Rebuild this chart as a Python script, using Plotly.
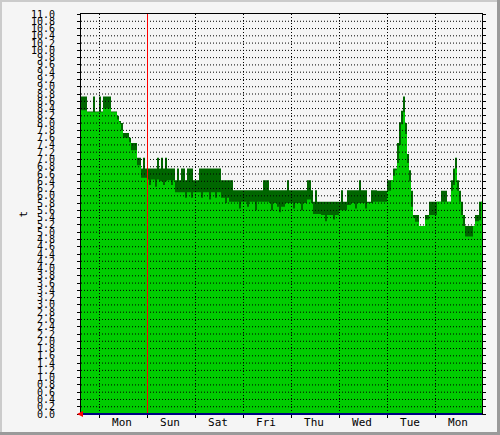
import plotly.graph_objects as go

# Hourly samples (left edge = sample 0)
MAX_VALUES = [
    8.73, 8.73, 8.73, 8.32, 8.32, 8.32, 8.73, 8.32, 8.32, 8.73,
    8.32, 8.73, 8.73, 8.73, 8.73, 8.32, 8.32, 8.32, 8.2, 8.06,
    8.0, 7.73, 7.73, 7.73, 7.6, 7.45, 7.45, 7.45, 7.05, 7.05,
    6.75, 7.05, 6.75, 6.75, 6.75, 6.75, 6.75, 6.75, 7.05, 6.75,
    7.05, 6.75, 7.05, 6.75, 6.75, 6.75, 6.75, 6.43, 6.75, 6.43,
    6.75, 6.75, 6.43, 6.75, 6.75, 6.75, 6.43, 6.43, 6.43, 6.75,
    6.75, 6.75, 6.75, 6.75, 6.75, 6.75, 6.75, 6.75, 6.75, 6.75,
    6.43, 6.43, 6.43, 6.43, 6.43, 6.43, 6.15, 6.15, 6.15, 6.15,
    6.15, 6.15, 6.15, 6.15, 6.15, 6.15, 6.15, 6.15, 6.15, 6.15,
    6.15, 6.43, 6.43, 6.43, 6.15, 6.15, 6.15, 6.15, 6.15, 6.15,
    6.15, 6.15, 6.15, 6.43, 6.15, 6.15, 6.15, 6.15, 6.15, 6.15,
    6.15, 6.15, 6.15, 6.43, 6.43, 6.15, 5.84, 6.15, 5.84, 5.84,
    5.84, 5.84, 5.84, 5.84, 5.84, 5.84, 5.84, 5.84, 5.84, 5.84,
    6.15, 5.84, 5.84, 6.15, 6.15, 6.15, 6.15, 6.15, 6.15, 6.43,
    6.15, 6.15, 6.15, 5.84, 5.84, 6.15, 6.15, 6.15, 6.14, 6.14,
    6.14, 6.14, 6.14, 6.43, 6.43, 6.43, 6.75, 6.75, 7.45, 8.02,
    8.34, 8.73, 8.0, 7.15, 6.7, 6.14, 5.47, 5.47, 5.47, 5.17,
    5.17, 5.17, 5.47, 5.47, 5.84, 5.84, 5.84, 5.84, 5.84, 5.84,
    6.14, 6.14, 6.14, 5.84, 5.84, 6.43, 6.75, 7.05, 6.43, 6.14,
    5.84, 5.47, 5.17, 5.17, 5.17, 5.17, 5.17, 5.47, 5.47, 5.84,
    5.84,
]

AVG_VALUES = [
    8.35, 8.35, 8.35, 8.3, 8.3, 8.3, 8.3, 8.3, 8.3, 8.3,
    8.3, 8.4, 8.4, 8.4, 8.4, 8.3, 8.3, 8.3, 8.1, 8.03,
    7.8, 7.6, 7.6, 7.6, 7.47, 7.25, 7.25, 7.25, 6.84, 6.84,
    6.5, 6.5, 6.5, 6.45, 6.3, 6.45, 6.45, 6.25, 6.45, 6.4,
    6.4, 6.3, 6.4, 6.43, 6.43, 6.3, 6.43, 6.1, 6.1, 6.1,
    6.1, 6.1, 5.95, 6.1, 6.1, 5.95, 6.1, 6.1, 6.1, 6.1,
    5.95, 6.1, 6.1, 6.1, 5.9, 6.1, 6.1, 5.95, 6.1, 6.1,
    5.95, 5.95, 5.8, 5.95, 5.84, 5.84, 5.84, 5.84, 5.84, 5.65,
    5.84, 5.84, 5.84, 5.7, 5.84, 5.84, 5.84, 5.6, 5.84, 5.84,
    5.84, 5.84, 5.84, 5.84, 5.8, 5.6, 5.8, 5.8, 5.7, 5.55,
    5.7, 5.7, 5.8, 5.8, 5.8, 5.8, 5.65, 5.8, 5.8, 5.8,
    5.6, 5.8, 5.8, 5.9, 5.9, 5.8, 5.5, 5.5, 5.5, 5.5,
    5.47, 5.47, 5.3, 5.47, 5.47, 5.47, 5.35, 5.47, 5.47, 5.6,
    5.6, 5.6, 5.6, 5.75, 5.75, 5.8, 5.8, 5.65, 5.8, 5.8,
    5.8, 5.8, 5.65, 5.8, 5.8, 5.8, 5.84, 5.84, 5.84, 5.84,
    5.84, 5.84, 5.84, 6.14, 6.14, 6.43, 6.55, 6.7, 6.9, 7.4,
    7.97, 8.3, 7.7, 6.9, 6.4, 5.7, 5.4, 5.29, 5.29, 5.17,
    5.17, 5.17, 5.35, 5.35, 5.47, 5.47, 5.47, 5.47, 5.84, 5.84,
    5.84, 5.84, 5.84, 5.84, 5.84, 6.14, 6.3, 6.75, 6.14, 5.84,
    5.47, 5.17, 4.88, 4.88, 4.88, 4.88, 5.17, 5.3, 5.3, 5.33,
    5.84,
]

DAY_LABELS = ["Mon", "Sun", "Sat", "Fri", "Thu", "Wed", "Tue", "Mon"]
FIRST_MIDNIGHT = 9.25      # hours from the left edge
HOURS_PER_DAY = 24
RED_LINE_INDEX = 1         # which day boundary is drawn as the red marker
Y_MAX = 11.0
Y_STEP = 0.2

n = len(MAX_VALUES)
hours = list(range(n + 1))
max_y = MAX_VALUES + [MAX_VALUES[-1]]
avg_y = AVG_VALUES + [AVG_VALUES[-1]]
x_end = n - 0.5

boundaries = [FIRST_MIDNIGHT + HOURS_PER_DAY * k for k in range(len(DAY_LABELS))]
label_pos = [b + HOURS_PER_DAY / 2 - 0.75 for b in boundaries]
yticks = [round(Y_STEP * k, 1) for k in range(int(round(Y_MAX / Y_STEP)) + 1)]

DARK = "#006600"
BRIGHT = "#00CC00"
BG = "#F5F5F5"
MONO = "DejaVu Sans Mono"

fig = go.Figure()
fig.add_trace(go.Scatter(x=hours, y=max_y, mode="lines", line=dict(width=0, shape="hv"),
                         fill="tozeroy", fillcolor=DARK, hoverinfo="skip", showlegend=False))
fig.add_trace(go.Scatter(x=hours, y=avg_y, mode="lines", line=dict(width=0, shape="hv"),
                         fill="tozeroy", fillcolor=BRIGHT, hoverinfo="skip", showlegend=False))
# invisible trace on the label axis
fig.add_trace(go.Scatter(x=[0], y=[0], xaxis="x2", mode="markers",
                         marker=dict(opacity=0), hoverinfo="skip", showlegend=False))

W, H = 500, 435
L, R, T, B = 81, 18, 14, 21
pw, ph = W - L - R, H - T - B

fig.update_layout(
    width=W, height=H,
    margin=dict(l=L, r=R, t=T, b=B, pad=0, autoexpand=False),
    paper_bgcolor=BG, plot_bgcolor=BG,
    xaxis=dict(range=[0, x_end], tickvals=boundaries, ticktext=[""] * len(boundaries),
               ticks="outside", ticklen=3, tickcolor="black", showgrid=False,
               zeroline=False, showline=True, linecolor="black", mirror=True,
               fixedrange=True, automargin=False),
    xaxis2=dict(range=[0, x_end], overlaying="x", anchor="y", side="bottom",
                tickvals=label_pos, ticktext=DAY_LABELS, ticks="", showgrid=False,
                zeroline=False, showline=False, automargin=False,
                tickfont=dict(family=MONO, size=11, color="black")),
    yaxis=dict(range=[0, Y_MAX], tickvals=yticks, ticktext=[f"{v:.1f}" for v in yticks],
               ticks="outside", ticklen=3, tickcolor="black", showgrid=False,
               zeroline=False, showline=True, linecolor="black", mirror="ticks",
               ticklabelstandoff=20, automargin=False,
               tickfont=dict(family=MONO, size=10, color="black")),
    font=dict(family=MONO, color="black"),
)

shapes = []
grid_line = dict(color="black", width=1, dash="1px,2px")
for v in yticks[1:-1]:
    shapes.append(dict(type="line", xref="paper", yref="y", x0=0, x1=1, y0=v, y1=v,
                       line=grid_line, layer="above"))
for k, b in enumerate(boundaries):
    if k == RED_LINE_INDEX:
        shapes.append(dict(type="line", xref="x", yref="paper", x0=b, x1=b, y0=0, y1=1,
                           line=dict(color="red", width=1), layer="above"))
    else:
        shapes.append(dict(type="line", xref="x", yref="paper", x0=b, x1=b, y0=0, y1=1,
                           line=grid_line, layer="above"))
# bottom axis (navy) line
shapes.append(dict(type="line", xref="paper", yref="paper", x0=0, x1=1, y0=0, y1=0,
                   line=dict(color="#000080", width=2), layer="above"))
# red arrow at origin
ax = 1.0 / pw
ay = 1.0 / ph
shapes.append(dict(type="path", xref="paper", yref="paper",
                   path=f"M {-4*ax} 0 L {2*ax} {3*ay} L {2*ax} {-3*ay} Z",
                   fillcolor="red", line=dict(color="red", width=0), layer="above"))
# outer 3D-ish frame
fx0, fx1 = -L / pw, (pw + R) / pw
fy0, fy1 = -B / ph, (ph + T) / ph
shapes.append(dict(type="line", xref="paper", yref="paper", x0=fx0 + ax, x1=fx0 + ax,
                   y0=fy0, y1=fy1, line=dict(color="#CBCBCB", width=2)))
shapes.append(dict(type="line", xref="paper", yref="paper", x0=fx0, x1=fx1,
                   y0=fy1 - ay, y1=fy1 - ay, line=dict(color="#CBCBCB", width=2)))
shapes.append(dict(type="line", xref="paper", yref="paper", x0=fx1 - 1.5 * ax, x1=fx1 - 1.5 * ax,
                   y0=fy0, y1=fy1, line=dict(color="#9A9A9A", width=3)))
shapes.append(dict(type="line", xref="paper", yref="paper", x0=fx0, x1=fx1,
                   y0=fy0 + 1.5 * ay, y1=fy0 + 1.5 * ay, line=dict(color="#9A9A9A", width=3)))
fig.update_layout(shapes=shapes)

fig.add_annotation(text="t", xref="paper", yref="paper", x=(14 - L) / pw, y=0.5,
                   showarrow=False, textangle=-90,
                   font=dict(family=MONO, size=11, color="black"))

fig.write_html("out.html", config={"displayModeBar": False},
               post_script="document.body.style.margin='0';"
                           "document.body.style.overflow='hidden';")
